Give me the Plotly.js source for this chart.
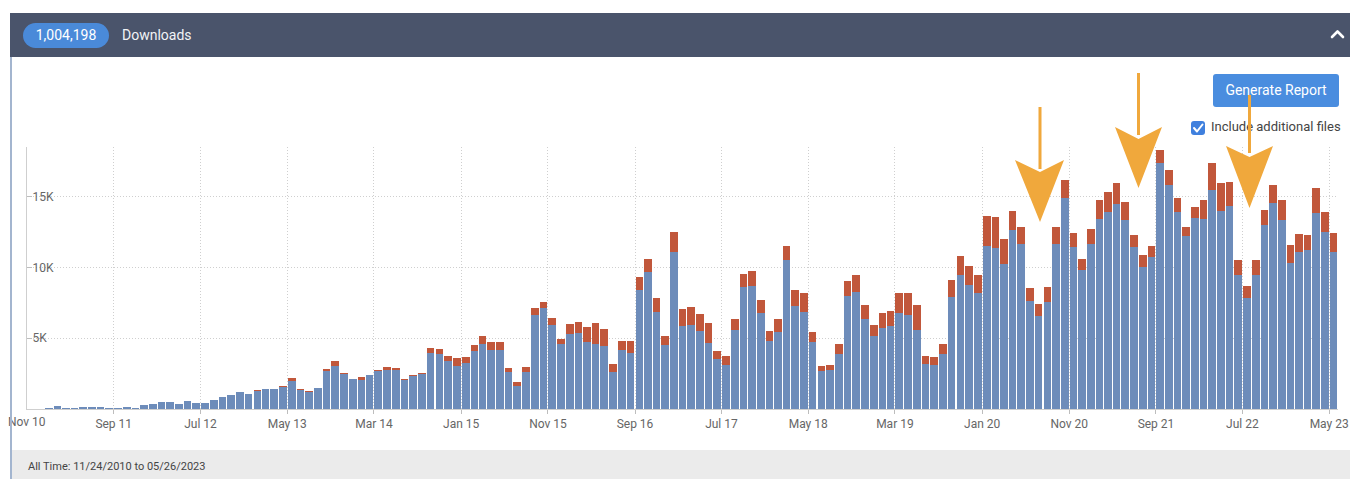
<!DOCTYPE html>
<html>
<head>
<meta charset="utf-8">
<script src="https://cdn.plot.ly/plotly-3.0.1.min.js"></script>
<style>
html,body{margin:0;padding:0;background:#fff;width:1350px;height:479px;overflow:hidden;font-family:Roboto,"Open Sans",Arial,sans-serif;}
#wrap{position:relative;width:1350px;height:479px;}
#footer{position:absolute;left:12px;top:450px;width:1338px;height:29px;background:#ebebeb;}
#footer span{position:absolute;left:16px;top:10px;font-size:11px;color:#444;}
#chart{position:absolute;left:0;top:0;width:1350px;height:479px;}
#leftline{position:absolute;left:10px;top:57px;width:2px;height:422px;background:#a3b5cf;z-index:5;}
#header{position:absolute;left:10px;top:13px;width:1340px;height:44px;background:#4a546b;z-index:5;}
#badge{position:absolute;left:13px;top:10px;width:86px;height:25px;border-radius:13px;background:#4a8ad9;color:#fff;font-size:14px;line-height:25px;text-align:center;}
#hdrtitle{position:absolute;left:112px;top:0;line-height:44px;color:#f1f3f6;font-size:14px;}
#btn{position:absolute;left:1213px;top:74px;width:126px;height:33px;border-radius:3px;background:#4a8ddf;color:#fff;font-size:14px;line-height:33px;text-align:center;z-index:4;}
#chk{position:absolute;left:1191px;top:121px;width:14px;height:14px;border-radius:3px;background:#3f80de;z-index:4;}
#chklabel{position:absolute;left:1211px;top:119px;font-size:13px;color:#444;z-index:4;}
#overlay{position:absolute;left:0;top:0;z-index:6;pointer-events:none;}
</style>
</head>
<body>
<div id="wrap">
  <div id="footer"><span>All Time: 11/24/2010 to 05/26/2023</span></div>
  <div id="chart"></div>
  <div id="leftline"></div>
  <div id="header">
    <div id="badge">1,004,198</div>
    <div id="hdrtitle">Downloads</div>
  </div>
  <div id="btn">Generate Report</div>
  <div id="chk"></div>
  <div id="chklabel">Include additional files</div>
  <svg id="overlay" width="1350" height="479">
    <polyline points="1332,37 1337.5,31.5 1343,37" fill="none" stroke="#ffffff" stroke-width="2.6" stroke-linecap="round" stroke-linejoin="round"/>
    <polyline points="1194,128 1197,131.5 1202.5,124.5" fill="none" stroke="#ffffff" stroke-width="2" stroke-linecap="round" stroke-linejoin="round"/>
    <g fill="#f0a83c">
      <rect x="1038.5" y="107" width="3" height="62"/>
      <path d="M1015,160 L1040,172 L1064,160 L1040,222 Z"/>
      <rect x="1137" y="73" width="3" height="62"/>
      <path d="M1115,127 L1138.5,139 L1162,127 L1138.5,188 Z"/>
      <rect x="1248" y="95" width="3" height="58"/>
      <path d="M1226,146 L1249.5,157 L1273,146 L1249.5,208 Z"/>
    </g>
  </svg>
</div>
<script>
// ---- data ----
var startMonth = '2010-11';
var monthCount = 151;
var mainDownloads = [
  20,30,40,190,80,80,150,160,140,60,
  50,120,100,270,340,500,500,360,550,450,
  450,620,850,1000,1200,1060,1290,1410,1400,1580,
  1970,1360,1220,1450,2660,3060,2470,2090,2030,2370,
  2680,2730,2720,2070,2330,2470,3960,3910,3360,3010,
  3240,4070,4610,4140,4190,2610,1600,2610,6650,7100,
  5950,4610,5290,5360,4730,4610,4420,2610,4140,3960,
  8400,9650,6830,4540,11100,5830,5910,5490,4660,3530,
  3110,5580,8640,8710,6750,4800,5410,10540,7250,6870,
  4750,2680,2730,3880,7950,8240,6380,5130,5720,5840,
  6780,6660,5550,3200,3130,3880,7880,9460,8730,8190,
  11480,11360,10260,12660,11670,7600,6590,7550,11650,14890,
  11410,9790,11670,13440,13880,14490,13360,11410,10000,10730,
  17360,15790,13930,12190,13490,13440,15440,14000,14350,9480,
  7840,9480,13010,14540,13320,10310,11060,11250,13840,12490,
  11060
];
var additionalFiles = [
  0,0,0,0,0,0,0,0,0,0,
  0,0,0,0,0,0,0,0,0,0,
  0,0,0,0,0,0,70,20,30,20,
  190,70,30,30,160,300,70,50,230,50,
  100,210,150,50,50,70,350,350,400,590,
  450,420,520,590,540,310,310,350,450,450,
  470,350,710,800,1030,1460,1250,570,640,820,
  890,960,1010,640,1390,1250,1270,1220,1390,560,
  610,800,870,1050,940,730,940,940,1150,1290,
  690,330,400,710,1060,1200,940,800,1060,1080,
  1410,1530,1770,560,520,730,1230,1360,1340,1290,
  2120,2190,1740,1290,1180,940,820,1060,1200,1300,
  990,800,1060,1290,1410,1460,1280,850,850,800,
  950,1100,960,660,750,1290,1920,1950,1700,1010,
  820,1010,1010,1250,1460,1240,1320,1060,1760,1390,
  1390
];
var xTickVals = ['2010-11-01','2011-09-01','2012-07-01','2013-05-01','2014-03-01','2015-01-01','2015-11-01','2016-09-01','2017-07-01','2018-05-01','2019-03-01','2020-01-01','2020-11-01','2021-09-01','2022-07-01','2023-05-01'];
var xTickText = ['Nov 10','Sep 11','Jul 12','May 13','Mar 14','Jan 15','Nov 15','Sep 16','Jul 17','May 18','Mar 19','Jan 20','Nov 20','Sep 21','Jul 22','May 23'];
var yTickVals = [5000,10000,15000];
var yTickText = ['5K','10K','15K'];

// ---- build month positions ----
var months = [], widths = [], offsets = [];
var sy = parseInt(startMonth.slice(0,4),10), sm = parseInt(startMonth.slice(5,7),10)-1;
for (var i=0;i<monthCount;i++){
  var y = sy + Math.floor((sm+i)/12), m = (sm+i)%12;
  var d0 = Date.UTC(y,m,1), d1 = Date.UTC(y,m+1,1);
  var span = d1-d0;
  months.push(y+'-'+(m<9?'0':'')+(m+1)+'-01');
  widths.push(span*0.88);
  offsets.push(span*0.06);
}

var blue = '#6d8cba', red = '#c1573b';
var traces = [
  {type:'bar', name:'Downloads', x:months, y:mainDownloads, width:widths, offset:offsets,
   marker:{color:blue, line:{width:0}}, hoverinfo:'skip'},
  {type:'bar', name:'Additional files', x:months, y:additionalFiles, width:widths, offset:offsets,
   marker:{color:red, line:{width:0}}, hoverinfo:'skip'}
];
var tickFont = {family:'Roboto, Open Sans, sans-serif', size:12, color:'#666666'};
var layout = {
  width:1350, height:479,
  margin:{l:27, r:12, t:147, b:70, pad:0},
  paper_bgcolor:'rgba(0,0,0,0)', plot_bgcolor:'rgba(0,0,0,0)',
  barmode:'stack', showlegend:false,
  xaxis:{type:'date', range:['2010-11-01','2023-06-01'], tickmode:'array', tickvals:xTickVals, ticktext:xTickText,
    showgrid:true, gridcolor:'#cfcfcf', griddash:'1px,2px', gridwidth:1,
    ticks:'outside', ticklen:4, tickcolor:'#bdbdbd', showline:true, linecolor:'#cfcfcf', linewidth:1,
    zeroline:false, tickfont:tickFont, fixedrange:true, ticklabeloverflow:'allow'},
  yaxis:{range:[0,18500], tickmode:'array', tickvals:yTickVals, ticktext:yTickText,
    ticklabelposition:'inside', ticks:'inside', ticklen:5, tickcolor:'#bdbdbd',
    showline:true, linecolor:'#cfcfcf', linewidth:1,
    showgrid:true, gridcolor:'#cfcfcf', griddash:'1px,2px', gridwidth:1,
    zeroline:false, tickfont:tickFont, fixedrange:true},
  annotations:[
    {xref:'x', yref:'paper', x:xTickVals[0], y:0, xanchor:'center', yanchor:'top', yshift:-4,
     text:xTickText[0], showarrow:false, font:tickFont}
  ]
};
Plotly.newPlot('chart', traces, layout, {staticPlot:true, displayModeBar:false});
</script>
</body>
</html>
